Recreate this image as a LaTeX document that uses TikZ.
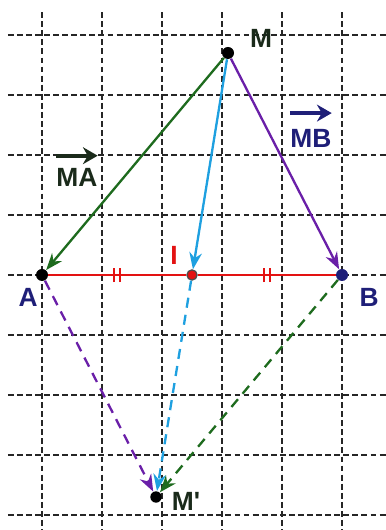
\documentclass[tikz,border=0pt]{standalone}
\usepackage{fontspec}
\setmainfont{Liberation Sans}
\usetikzlibrary{arrows.meta}
\definecolor{vgreen}{HTML}{1E6B1E}
\definecolor{vpurple}{HTML}{6A1FA8}
\definecolor{vcyan}{HTML}{1EA0E0}
\definecolor{vred}{HTML}{E31212}
\definecolor{vnavy}{HTML}{1F1F78}
\definecolor{vdark}{HTML}{1A2A1A}

\begin{document}
\begin{tikzpicture}[
  font=\fontsize{12.5}{14}\selectfont\bfseries,
  grd/.style={black!85,line width=1pt,dash pattern=on 2.8pt off 1.5pt},
  pt/.style={circle,fill=black,inner sep=0pt,minimum size=0.2cm},
  lbl/.style={inner sep=0pt},
  ar/.style={-{Stealth[length=8pt,width=6pt]},line width=1.1pt},
  dar/.style={ar,dash pattern=on 4.8pt off 3.4pt},
  tk/.style={vred,line width=1.1pt},
  vc/.style={-{Stealth[length=7pt,width=8pt]},line width=1.8pt}
]
\useasboundingbox (-0.7,-4.25) rectangle (5.733,4.583);

% grid
\foreach \x in {0,...,5}
  \draw[grd] (\x,4.38) -- (\x,-4.25);
\foreach \y in {-4,...,4}
  \draw[grd] (-0.57,\y) -- (5.733,\y);

% points
\node[pt] (A) at (0,0) {};
\node[pt,fill=vnavy] (B) at (5,0) {};
\node[pt,fill=vred,draw=black!70,line width=0.6pt,minimum size=0.17cm] (I) at (2.5,0) {};
\node[pt] (M) at (3.1,3.7) {};
\node[pt,minimum size=0.19cm] (Mp) at (1.9,-3.7) {};

% segment AB
\draw[vred,line width=1.4pt] (A) -- (I) -- (B);
\foreach \x in {1.25,3.75}
  \draw[tk] (\x-0.05,-0.12) -- ++(0,0.24) (\x+0.05,-0.12) -- ++(0,0.24);

% vectors
\draw[ar,vgreen] (M) -- (A);
\draw[ar,vpurple] (M) -- (B);
\draw[ar,vcyan] (M) -- (I);
\draw[dar,vpurple] (A) -- (Mp);
\draw[dar,vcyan] (I) -- (Mp);
\draw[dar,vgreen] (B) -- (Mp);

% labels
\node[lbl,text=vdark] (lM) at (3.65,3.95) {M};
\node[lbl,text=vdark] (lMp) at (2.4,-3.77) {M\textquotesingle};
\node[lbl,text=vnavy] (lA) at (-0.23,-0.38) {A};
\node[lbl,text=vnavy] (lB) at (5.45,-0.37) {B};
\node[lbl,text=vred] (lI) at (2.2,0.33) {I};
\node[lbl,text=vdark] (lMA) at (0.58,1.63) {MA};
\node[lbl,text=vnavy] (lMB) at (4.48,2.27) {MB};
\draw[vc,vdark] ([yshift=0.2cm]lMA.north west) -- ([yshift=0.2cm]lMA.north east);
\draw[vc,vnavy] ([yshift=0.27cm]lMB.north west) -- ([yshift=0.27cm]lMB.north east);
\end{tikzpicture}
\end{document}
